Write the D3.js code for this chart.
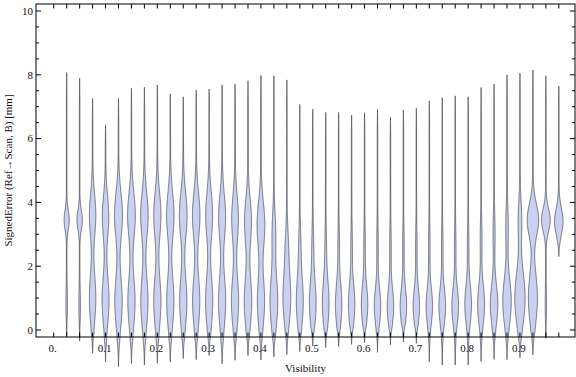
<!DOCTYPE html>
<meta charset="utf-8">
<script src="https://d3js.org/d3.v7.min.js"></script>
<style>
  body { margin: 0; background: #fff; }
  text { font-family: "Liberation Serif", "DejaVu Serif", serif; fill: #111; }
</style>
<body>
<div id="chart"></div>
<script>
// violin index 1..39, each one a visibility bin of 0.025
var binIndex = d3.range(1, 40);
var xTickLabels = ["0.", "0.1", "0.2", "0.3", "0.4", "0.5", "0.6", "0.7", "0.8", "0.9"];
var yTicks = [0, 2, 4, 6, 8, 10];

// extent of each violin (mm)
var maxVal = [8.07, 7.89, 7.26, 6.43, 7.26, 7.58, 7.61, 7.68, 7.40, 7.31, 7.52, 7.55, 7.68,
  7.71, 7.81, 7.98, 7.97, 7.84, 7.07, 6.92, 6.82, 6.82, 6.74, 6.81, 6.92, 6.67, 6.90,
  6.95, 7.18, 7.28, 7.34, 7.31, 7.60, 7.71, 8.00, 8.05, 8.15, 7.97, 7.65];
var minVal = [-0.16, -0.35, -0.73, -1.00, -1.15, -1.05, -1.10, -1.04, -1.00, -0.89, -0.93, -0.80, -1.06,
  -0.95, -0.80, -0.94, -0.84, -0.77, -0.68, -0.50, -0.55, -0.52, -0.45, -0.40, -0.70, -0.46, -0.37,
  -0.42, -0.99, -1.10, -1.10, -1.10, -0.99, -0.92, -0.93, -0.87, -0.78, -0.26, 2.30];

// lower mode: centre (mm), half width (bin units), spread (mm)
var lowMode = [0.8, 0.8, 1.0, 0.95, 0.9, 0.9, 0.9, 0.9, 0.9, 0.9, 0.9, 0.9, 0.9,
  0.9, 0.9, 0.9, 0.9, 1.0, 0.9, 0.85, 0.85, 0.8, 0.8, 0.8, 0.75, 0.75, 0.75,
  0.75, 0.75, 0.75, 0.75, 0.8, 0.8, 0.8, 0.9, 1.0, 1.0, 0.8, 0.8];
var lowWidth = [0.04, 0.04, 0.23, 0.25, 0.27, 0.26, 0.26, 0.26, 0.26, 0.26, 0.26, 0.26, 0.26,
  0.26, 0.27, 0.26, 0.28, 0.28, 0.25, 0.24, 0.24, 0.23, 0.23, 0.23, 0.23, 0.23, 0.23,
  0.23, 0.23, 0.24, 0.24, 0.24, 0.25, 0.27, 0.31, 0.38, 0.33, 0.03, 0.0];
var lowSpread = [0.5, 0.5, 0.75, 0.75, 0.78, 0.78, 0.78, 0.78, 0.78, 0.78, 0.78, 0.78, 0.78,
  0.78, 0.78, 0.78, 0.8, 0.78, 0.75, 0.7, 0.7, 0.65, 0.62, 0.6, 0.55, 0.55, 0.55,
  0.55, 0.55, 0.55, 0.55, 0.58, 0.6, 0.62, 0.7, 0.8, 0.8, 0.5, 0.5];

// upper mode: centre (mm), half width (bin units), spread (mm)
var highMode = [3.45, 3.45, 3.6, 3.55, 3.6, 3.6, 3.6, 3.6, 3.6, 3.6, 3.6, 3.6, 3.55,
  3.5, 3.4, 3.3, 3.0, 2.6, 2.6, 2.6, 2.6, 2.6, 2.6, 2.6, 2.6, 2.6, 2.6,
  2.6, 2.6, 2.6, 2.6, 2.6, 2.8, 3.0, 3.2, 3.4, 3.45, 3.45, 3.4];
var highWidth = [0.18, 0.19, 0.23, 0.23, 0.29, 0.28, 0.27, 0.26, 0.27, 0.28, 0.27, 0.25, 0.25,
  0.24, 0.25, 0.28, 0.12, 0.09, 0.06, 0.05, 0.04, 0.04, 0.04, 0.04, 0.04, 0.04, 0.04,
  0.04, 0.04, 0.04, 0.04, 0.04, 0.05, 0.06, 0.08, 0.12, 0.42, 0.32, 0.31];
var highSpread = [0.3, 0.3, 0.65, 0.65, 0.7, 0.7, 0.7, 0.7, 0.7, 0.7, 0.7, 0.7, 0.7,
  0.7, 0.7, 0.7, 0.65, 0.6, 0.6, 0.6, 0.6, 0.6, 0.6, 0.6, 0.6, 0.6, 0.6,
  0.6, 0.6, 0.6, 0.6, 0.6, 0.6, 0.6, 0.6, 0.6, 0.5, 0.35, 0.4];

var W = 576, H = 377;
var plotLeft = 36, plotRight = 575, plotTop = 4, plotBottom = 337;

var svg = d3.select("#chart").append("svg")
  .attr("width", W)
  .attr("height", H);

var x = d3.scaleLinear().domain([-1.37, 40.25]).range([plotLeft, plotRight]);
var y = d3.scaleLinear().domain([-0.22, 10.22]).range([plotBottom, plotTop]);

// shape of one violin: half width (bin units) at value v
function halfWidth(i, v) {
  var a = (v - lowMode[i]) / lowSpread[i], b = (v - highMode[i]) / highSpread[i];
  var w = lowWidth[i] * Math.exp(-a * a / 2) + highWidth[i] * Math.exp(-b * b / 2) + 0.02;
  // taper to a point at both ends
  var span = maxVal[i] - minVal[i];
  var t = Math.min(v - minVal[i], maxVal[i] - v) / (span * 0.08);
  return w * Math.min(1, Math.max(0, t));
}

var violins = svg.append("g");
binIndex.forEach(function (k, i) {
  var vals = d3.range(minVal[i], maxVal[i], 0.02).concat([maxVal[i]]);
  var area = d3.area()
    .y(function (v) { return y(v); })
    .x0(function (v) { return x(k - halfWidth(i, v)); })
    .x1(function (v) { return x(k + halfWidth(i, v)); })
    .curve(d3.curveLinear);
  violins.append("path")
    .attr("d", area(vals))
    .attr("fill", "#c9d0f2")
    .attr("stroke", "#333")
    .attr("stroke-opacity", 0.7)
    .attr("stroke-width", 0.9);
});

// frame
svg.append("rect")
  .attr("x", plotLeft).attr("y", plotTop)
  .attr("width", plotRight - plotLeft).attr("height", plotBottom - plotTop)
  .attr("fill", "none").attr("stroke", "#000").attr("stroke-width", 1);

var ticks = svg.append("g").attr("stroke", "#000").attr("stroke-width", 1);
d3.range(0, 40).forEach(function (k) {
  ticks.append("line").attr("x1", x(k)).attr("x2", x(k)).attr("y1", plotBottom).attr("y2", plotBottom - 4.5);
  ticks.append("line").attr("x1", x(k)).attr("x2", x(k)).attr("y1", plotTop).attr("y2", plotTop + 4.5);
});
d3.range(0, 10.01, 0.5).forEach(function (v) {
  var len = (v % 2 === 0) ? 5 : 3;
  ticks.append("line").attr("x1", plotLeft).attr("x2", plotLeft + len).attr("y1", y(v)).attr("y2", y(v));
  ticks.append("line").attr("x1", plotRight).attr("x2", plotRight - len).attr("y1", y(v)).attr("y2", y(v));
});

xTickLabels.forEach(function (t, j) {
  svg.append("text")
    .attr("x", x(j * 4) - 1)
    .attr("y", 352)
    .attr("text-anchor", "middle")
    .attr("font-size", 11)
    .text(t);
});
yTicks.forEach(function (v) {
  svg.append("text")
    .attr("x", 33)
    .attr("y", y(v))
    .attr("dy", "0.35em")
    .attr("text-anchor", "end")
    .attr("font-size", 11)
    .text(v);
});

svg.append("text")
  .attr("x", (plotLeft + plotRight) / 2)
  .attr("y", 372)
  .attr("text-anchor", "middle")
  .attr("font-size", 11)
  .text("Visibility");

svg.append("text")
  .attr("transform", "translate(12," + ((plotTop + plotBottom) / 2) + ") rotate(-90)")
  .attr("text-anchor", "middle")
  .attr("font-size", 11)
  .text("SignedError (Ref\u2192Scan, B) [mm]");
</script>
</body>
